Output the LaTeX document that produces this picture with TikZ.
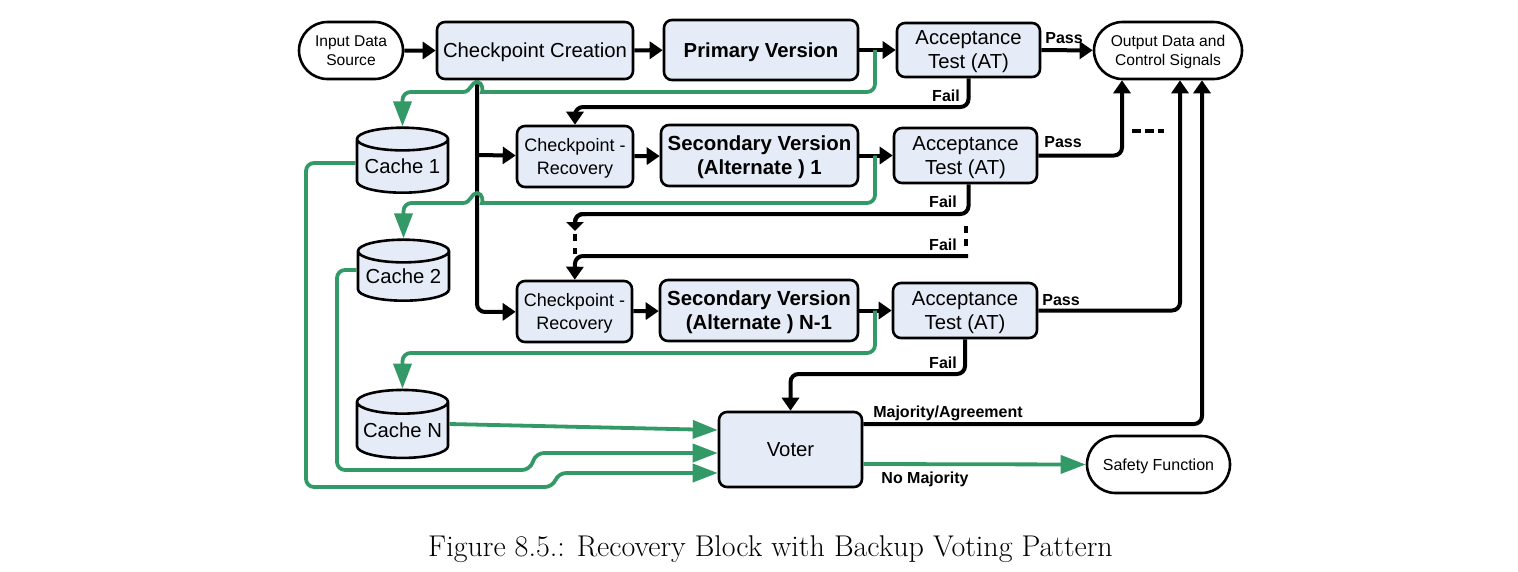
\documentclass[tikz,border=0pt]{standalone}
\usepackage{fontspec}
\newfontfamily\arialfont{Liberation Sans}
\usetikzlibrary{arrows.meta,shapes.geometric,shapes.misc}
\definecolor{boxfill}{HTML}{E6ECF7}
\definecolor{datagreen}{HTML}{339966}
\tikzstyle{block}=[draw, rectangle, rounded corners=8pt, fill=boxfill, line width=2.6pt,
    inner sep=0pt, align=center, text depth=0pt, font=\arialfont\fontsize{20.3}{24}\selectfont]
\tikzstyle{terminal}=[draw, rounded rectangle, fill=white, line width=2.6pt,
    inner sep=0pt, align=center, text depth=0pt, font=\arialfont\fontsize{15.6}{19.5}\selectfont]
\tikzstyle{cache}=[draw, cylinder, shape border rotate=90, aspect=0.3, fill=boxfill, line width=2.6pt,
    inner sep=0pt, minimum width=91pt, text depth=0pt, font=\arialfont\fontsize{20.3}{24}\selectfont]
\tikzstyle{ctrl}=[line width=4pt, rounded corners=8pt, -{Triangle[length=13pt,width=17pt]}]
\tikzstyle{ctrlplain}=[line width=4pt, rounded corners=8pt]
\tikzstyle{data}=[draw=datagreen, line width=3.8pt, rounded corners=8pt,
    -{Triangle[length=25pt,width=18pt,fill=datagreen]}]
\tikzstyle{flag}=[inner sep=0pt, text depth=0pt, font=\arialfont\bfseries\fontsize{16}{18}\selectfont]
\tikzstyle{recovery}=[font=\arialfont\fontsize{18}{23}\selectfont]
\tikzstyle{secondary}=[font=\arialfont\bfseries\fontsize{20.4}{24}\selectfont]

\begin{document}
\begin{tikzpicture}[x=1pt,y=-1pt]
  \useasboundingbox (0,0) rectangle (1518,571);

  \node at (351,50.5) (input)[terminal, minimum width=104pt, minimum height=57pt] {Input Data\\Source};
  \node at (535,50.5) (create)[block, minimum width=196pt, minimum height=57pt] {Checkpoint Creation};
  \node at (761,50) (primary)[block, minimum width=194pt, minimum height=60pt] {\bfseries Primary Version};
  \node at (968.5,50) (at1)[block, minimum width=143pt, minimum height=54pt] {Acceptance\\Test (AT)};
  \node at (1168,50.5) (output)[terminal, minimum width=148pt, minimum height=57pt] {Output Data and\\Control Signals};

  \node at (575,156.5) (rec1)[block, recovery, minimum width=116pt, minimum height=61pt] {Checkpoint -\\Recovery};
  \node at (759.5,155.5) (sec1)[block, secondary, minimum width=197pt, minimum height=61pt] {Secondary Version\\(Alternate ) 1};
  \node at (965.5,155.5) (at2)[block, minimum width=143pt, minimum height=55pt] {Acceptance\\Test (AT)};

  \node at (574.5,311.5) (rec2)[block, recovery, minimum width=115pt, minimum height=61pt] {Checkpoint -\\Recovery};
  \node at (759,310.5) (sec2)[block, secondary, minimum width=198pt, minimum height=61pt] {Secondary Version\\(Alternate ) N-1};
  \node at (965,310.5) (at3)[block, minimum width=144pt, minimum height=55pt] {Acceptance\\Test (AT)};

  \node at (402.5,166.5) (cache1)[cache, minimum height=65pt] {Cache 1};
  \node at (403.5,276.5) (cache2)[cache, minimum height=61pt] {Cache 2};
  \node at (402.5,430.5) (cacheN)[cache, minimum height=68pt] {Cache N};

  \node at (790.5,449.5) (voter)[block, minimum width=143pt, minimum height=75pt] {Voter};
  \node at (1158.5,464.5) (safety)[terminal, minimum width=143pt, minimum height=57pt, font=\arialfont\fontsize{16}{18}\selectfont] {Safety Function};

  % tap points on the version outputs
  \coordinate (tap1) at (875,50);
  \coordinate (tap2) at (875,155.5);
  \coordinate (tap3) at (875,310.5);

  \draw[ctrl] (input) -- (create);
  \draw[ctrl] (create) -- (primary);
  \draw[ctrl] (primary) -- (at1);
  \draw[ctrl] (at1) -- (output);
  \draw[ctrl] (rec1) -- (sec1);
  \draw[ctrl] (sec1) -- (at2);
  \draw[ctrl] (rec2) -- (sec2);
  \draw[ctrl] (sec2) -- (at3);

  \draw[ctrl] (477,155) -- (rec1);
  \draw[ctrl] (create.south -| 477,0) -- (477,312) -- (rec2);

  \draw[ctrl] (at1.south) -- (968.5,107) -- (575,107) -- (rec1);
  \draw[ctrlplain] ([xshift=3pt]at2.south) -- (968.5,214) -- (575,214) -- (575,226);
  \draw[ctrl, -{Triangle[length=9pt,width=17pt]}] (586,214) -- (575,214) -- (575,231);
  \draw[line width=4pt, dash pattern=on 7pt off 7pt] (575,234) -- (575,254);
  \draw[line width=4pt, dash pattern=on 7pt off 6pt] (966,226) -- (966,247);
  \draw[ctrl] (968,256) -- (575,256) -- (rec2);
  \draw[ctrl] (at3.south) -- (965,374) -- (790.5,374) -- (voter);

  \draw[ctrl] (at2) -- (1122,155.5) -- (output.south -| 1122,0);
  \draw[ctrl] (at3) -- (1180,310.5) -- (output.south -| 1180,0);
  \draw[ctrl] ([yshift=25.5pt]voter.east) -- (1202,424) -- (output.south -| 1202,0);
  \draw[line width=4pt, dash pattern=on 9pt off 4pt] (1132,131) -- (1164,131);

  \draw[data] (tap1) -- (875,92) -- (490,92) [sharp corners] .. controls (483,92) and (483,82) .. (477,82)
    .. controls (471,82) and (471,92) .. (463,92) [rounded corners=8pt] -- (402.5,92) -- (cache1.top);
  \draw[data] (tap2) -- (875,203) -- (490,203) [sharp corners] .. controls (483,203) and (483,193) .. (477,193)
    .. controls (471,193) and (471,203) .. (463,203) [rounded corners=8pt] -- (403.5,203) -- (cache2.top);
  \draw[data] (tap3) -- (875,353) -- (402.5,353) -- (cacheN.top);

  \draw[data] ([yshift=6.5pt]cacheN.east) -- ([yshift=19.5pt]voter.west);
  \draw[data] ([yshift=6.5pt]cache2.west) -- (337,270) -- (337,470) -- (530,470) -- (536,453) -- ([yshift=-3.5pt]voter.west);
  \draw[data] ([yshift=3.5pt]cache1.west) -- (306,163) -- (306,487) -- (553,487) -- (558,473) -- ([yshift=-23.5pt]voter.west);
  \draw[data] ([yshift=-14.5pt]voter.east) -- (safety.west);

  \node at (1064,38) (pass1)[flag] {Pass};
  \node at (1063,142) (pass2)[flag] {Pass};
  \node at (1061,300) (pass3)[flag] {Pass};
  \node at (946,96) (fail1)[flag] {Fail};
  \node at (943,202) (fail2)[flag] {Fail};
  \node at (943,245) (fail3)[flag] {Fail};
  \node at (943,363) (fail4)[flag] {Fail};
  \node at (948,412) (agree)[flag] {Majority/Agreement};
  \node at (925,478) (nomaj)[flag] {No Majority};

  \node at (770.5,546) (caption)[inner sep=0pt, text depth=0pt, font=\fontsize{30}{32}\selectfont] {Figure 8.5.: Recovery Block with Backup Voting Pattern};
\end{tikzpicture}
\end{document}
